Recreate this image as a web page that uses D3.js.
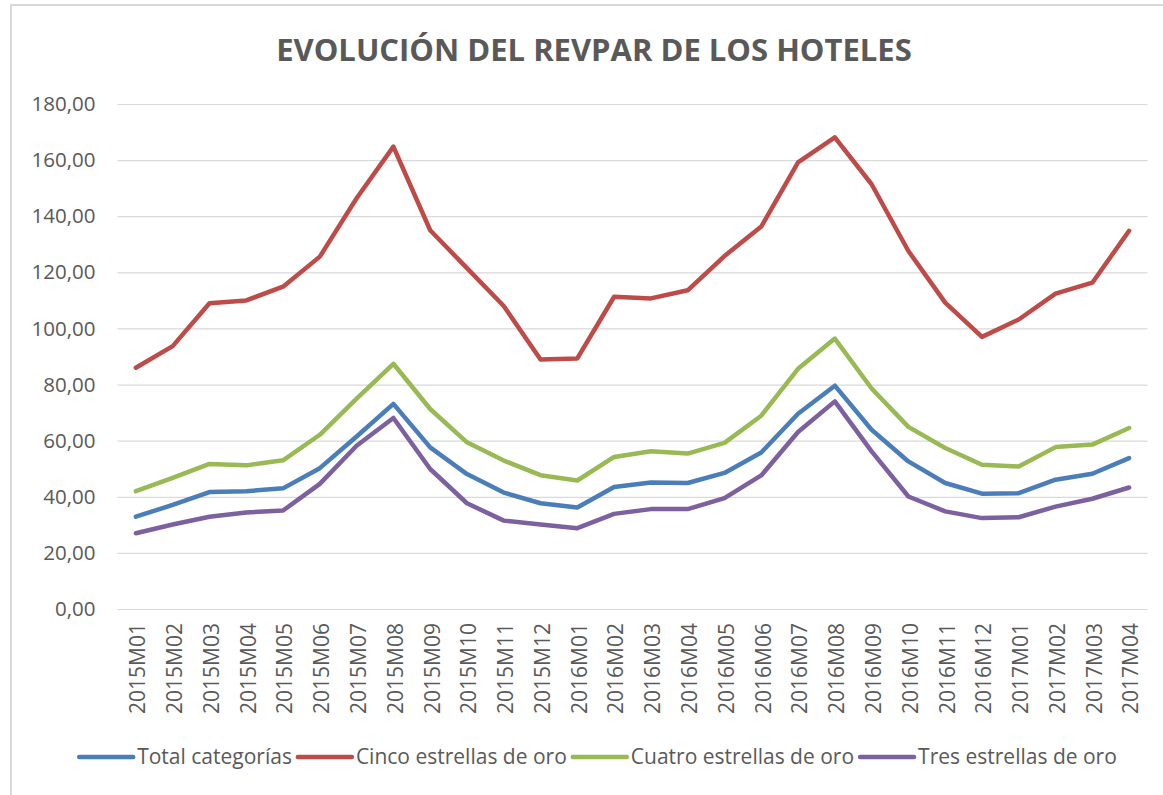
<!DOCTYPE html>
<html lang="es">
<head>
  <meta charset="UTF-8">
  <title>Evolución del RevPAR</title>
  <style>
    body { margin: 0; background: #fff; }
    svg { display: block; }
  </style>
</head>
<body>
  <script src="https://cdn.jsdelivr.net/npm/d3@7/dist/d3.min.js"></script>
  <script>
// datos
const months = ['2015M01','2015M02','2015M03','2015M04','2015M05','2015M06','2015M07','2015M08','2015M09','2015M10','2015M11','2015M12',
                '2016M01','2016M02','2016M03','2016M04','2016M05','2016M06','2016M07','2016M08','2016M09','2016M10','2016M11','2016M12',
                '2017M01','2017M02','2017M03','2017M04']
const total  = [32.9, 37.1, 41.7, 42.0, 43.0, 50.2, 61.5, 73.1, 57.6, 48.1, 41.5, 37.7, 36.2, 43.5, 45.1, 44.9, 48.5, 55.8, 69.6, 79.6, 63.9, 52.6, 44.9, 41.1, 41.3, 46.1, 48.2, 53.8]
const cinco  = [86.0, 93.7, 109.0, 110.0, 114.9, 125.6, 146.4, 164.8, 135.0, 121.5, 108.0, 88.9, 89.3, 111.3, 110.7, 113.6, 125.8, 136.3, 159.2, 168.1, 151.4, 127.6, 109.2, 97.0, 103.2, 112.4, 116.3, 134.8]
const cuatro = [42.0, 46.7, 51.7, 51.2, 53.0, 62.1, 75.0, 87.4, 71.3, 59.4, 52.9, 47.7, 45.8, 54.2, 56.2, 55.4, 59.2, 68.9, 85.6, 96.4, 78.6, 64.9, 57.4, 51.4, 50.8, 57.7, 58.6, 64.5]
const tres   = [27.0, 30.1, 32.9, 34.4, 35.1, 44.6, 58.2, 68.1, 49.9, 37.7, 31.5, 30.1, 28.8, 33.9, 35.6, 35.6, 39.5, 47.6, 63.1, 74.0, 56.2, 40.1, 34.8, 32.4, 32.7, 36.5, 39.3, 43.3]
const seriesNames = ['Total categorías', 'Cinco estrellas de oro', 'Cuatro estrellas de oro', 'Tres estrellas de oro']
const yTicks = [0, 20, 40, 60, 80, 100, 120, 140, 160, 180]

const colors = ['#4a7ebb', '#be4b48', '#98b954', '#7d60a0']
const series = [total, cinco, cuatro, tres].map((values, i) => ({ name: seriesNames[i], values, color: colors[i] }))

const font = '"Open Sans", "Liberation Sans", sans-serif'
const textColor = '#595959'

// lienzo
const width = 1163
const height = 795
const margin = { top: 104, right: 15.5, bottom: 186, left: 117.5 }
const innerWidth = width - margin.left - margin.right
const innerHeight = height - margin.top - margin.bottom

const svg = d3.select('body')
              .append('svg')
              .attr('width', width)
              .attr('height', height)
              .attr('font-family', font)

// borde del gráfico (solo se ven izquierda y arriba)
svg.append('path')
  .attr('d', `M11,${height} V5 H${width}`)
  .attr('fill', 'none')
  .attr('stroke', '#d9d9d9')
  .attr('stroke-width', 2)

// título
svg.append('text')
  .attr('x', 594)
  .attr('y', 61)
  .attr('text-anchor', 'middle')
  .attr('font-size', 31)
  .attr('font-weight', 'bold')
  .attr('fill', textColor)
  .text('EVOLUCIÓN DEL REVPAR DE LOS HOTELES')

const xScale = d3.scaleBand()
                 .domain(months)
                 .range([0, innerWidth])

const yScale = d3.scaleLinear()
                 .domain([0, 180])
                 .range([innerHeight, 0])

const g = svg.append('g')
             .attr('transform', `translate(${margin.left}, ${margin.top})`)

// eje y con líneas de cuadrícula
const yAxis = d3.axisLeft(yScale)
                .tickValues(yTicks)
                .tickSize(-innerWidth)
                .tickPadding(22)
                .tickFormat(d => d3.format('.2f')(d).replace('.', ','))

g.append('g')
  .call(yAxis)
  .attr('font-family', font)
  .attr('font-size', 20.5)
  .call(ax => ax.select('.domain').remove())
  .call(ax => ax.selectAll('.tick line').attr('stroke', '#d9d9d9').attr('stroke-width', 1.2))
  .call(ax => ax.selectAll('.tick text').attr('fill', textColor))

// etiquetas verticales del eje x
g.append('g')
  .attr('font-size', 21)
  .attr('fill', textColor)
  .selectAll('.x-label')
  .data(months)
  .enter()
  .append('text')
  .attr('class', 'x-label')
  .attr('transform', d => `translate(${xScale(d) + xScale.bandwidth() / 2 + 2}, ${innerHeight + 14}) rotate(-90)`)
  .attr('text-anchor', 'end')
  .attr('dy', '0.35em')
  .text(d => d)

// líneas
const line = d3.line()
               .x((d, i) => xScale(months[i]) + xScale.bandwidth() / 2)
               .y(d => yScale(d))

g.selectAll('.serie')
  .data(series)
  .enter()
  .append('path')
  .attr('class', 'serie')
  .attr('d', d => line(d.values))
  .attr('fill', 'none')
  .attr('stroke', d => d.color)
  .attr('stroke-width', 4.5)
  .attr('stroke-linejoin', 'round')
  .attr('stroke-linecap', 'round')

// leyenda
const legend = svg.append('g').attr('transform', 'translate(0, 757)')
const items = legend.selectAll('.item')
  .data(series)
  .enter()
  .append('g')
  .attr('class', 'item')

items.append('line')
  .attr('x1', 0)
  .attr('x2', 54)
  .attr('stroke', d => d.color)
  .attr('stroke-width', 4.5)
  .attr('stroke-linecap', 'round')

items.append('text')
  .attr('x', 58)
  .attr('dy', '0.35em')
  .attr('font-size', 21)
  .attr('fill', textColor)
  .text(d => d.name)

// colocar elementos uno detrás de otro y centrar
let offset = 0
const positions = []
items.each(function () {
  positions.push(offset)
  offset += this.getBBox().width + 6
})
const start = 598 - (offset - 6) / 2
items.attr('transform', (d, i) => `translate(${start + positions[i]}, 0)`)
  </script>
</body>
</html>
